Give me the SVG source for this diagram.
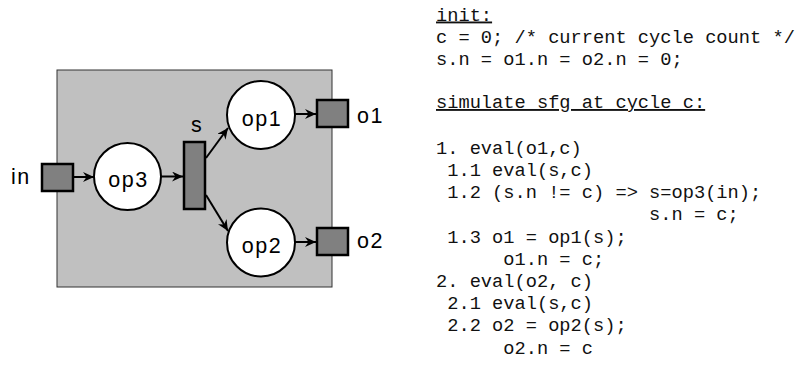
<svg xmlns="http://www.w3.org/2000/svg" width="798" height="367" viewBox="0 0 798 367">
<style>
.lbl{font-family:"Liberation Sans",Arial,sans-serif;font-size:21.5px;letter-spacing:1.5px;fill:#000}
.op{fill:#fff;stroke:#000;stroke-width:2}
.port{fill:#808080;stroke:#000;stroke-width:2.5}
.edge{stroke:#000;stroke-width:2;fill:none;marker-end:url(#ah)}
.code{font-family:"Liberation Mono","Courier New",monospace;font-size:18.7px;fill:#111;white-space:pre}
.ul{text-decoration:underline}
</style>
<defs>
<marker id="ah" markerUnits="userSpaceOnUse" markerWidth="14" markerHeight="12" refX="11" refY="5" orient="auto">
<path d="M0,0 L11,5 L0,10 L3.5,5 z" fill="#000"/>
</marker>
</defs>
<rect id="sfg" x="57" y="70" width="275" height="217" fill="#c0c0c0" stroke="#333" stroke-width="1"/>
<g id="connectors">
<line class="edge" x1="73" y1="177" x2="94" y2="177"/>
<line class="edge" x1="161" y1="176.5" x2="183" y2="176.5"/>
<line class="edge" x1="206" y1="158" x2="228" y2="128"/>
<line class="edge" x1="206" y1="195" x2="228" y2="231"/>
<line class="edge" x1="295" y1="114" x2="316" y2="114"/>
<line class="edge" x1="295" y1="242" x2="316" y2="242"/>
</g>
<g id="in">
<rect class="port" x="42" y="164" width="31" height="27"/>
<text class="lbl" x="11" y="184">in</text>
</g>
<g id="op3">
<circle class="op" cx="127.5" cy="176.5" r="33.5"/>
<text class="lbl" x="128.5" y="187" text-anchor="middle">op3</text>
</g>
<g id="s">
<rect class="port" x="184" y="142" width="21" height="67"/>
<text class="lbl" x="197" y="131.5" text-anchor="middle">s</text>
</g>
<g id="op1">
<circle class="op" cx="261" cy="115" r="34"/>
<text class="lbl" x="262" y="125.5" text-anchor="middle">op1</text>
</g>
<g id="op2">
<circle class="op" cx="261" cy="242.5" r="34"/>
<text class="lbl" x="262" y="253" text-anchor="middle">op2</text>
</g>
<g id="o1">
<rect class="port" x="317" y="100" width="31" height="27"/>
<text class="lbl" x="357" y="122.5">o1</text>
</g>
<g id="o2">
<rect class="port" x="317" y="228" width="31" height="27"/>
<text class="lbl" x="357" y="248">o2</text>
</g>
<g id="code">
<text class="code ul" x="436" y="20.5">init:</text>
<text class="code" x="436" y="42.5">c = 0; /* current cycle count */</text>
<text class="code" x="436" y="64.5">s.n = o1.n = o2.n = 0;</text>
<text class="code ul" x="436" y="108">simulate_sfg at cycle c:</text>
<text class="code" x="436" y="153.7">1. eval(o1,c)</text>
<text class="code" x="436" y="175.9"> 1.1 eval(s,c)</text>
<text class="code" x="436" y="198.1"> 1.2 (s.n != c) =&gt; s=op3(in);</text>
<text class="code" x="436" y="220.3">                   s.n = c;</text>
<text class="code" x="436" y="242.5"> 1.3 o1 = op1(s);</text>
<text class="code" x="436" y="264.7">      o1.n = c;</text>
<text class="code" x="436" y="286.9">2. eval(o2, c)</text>
<text class="code" x="436" y="309.1"> 2.1 eval(s,c)</text>
<text class="code" x="436" y="331.3"> 2.2 o2 = op2(s);</text>
<text class="code" x="436" y="353.5">      o2.n = c</text>
</g>
</svg>
